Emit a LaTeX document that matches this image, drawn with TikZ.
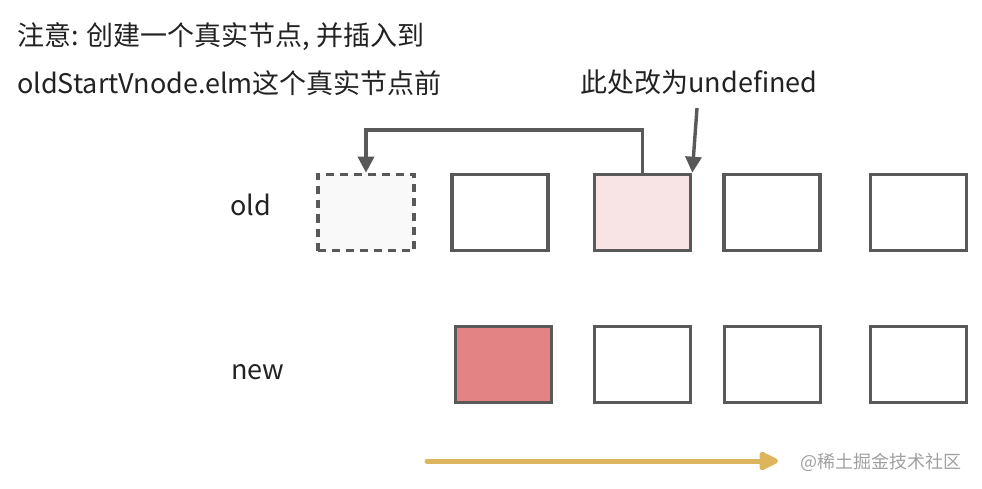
\documentclass[tikz,border=0pt]{standalone}
\usepackage{fontspec}
\setmainfont{Noto Sans CJK SC}
\usetikzlibrary{arrows.meta}
\definecolor{edge}{HTML}{595959}
\definecolor{pinkfill}{HTML}{F8E4E4}
\definecolor{redfill}{HTML}{E38383}
\definecolor{ghost}{HTML}{F9F9F9}
\definecolor{gold}{HTML}{DDB55C}
\definecolor{ink}{HTML}{222222}
\definecolor{wm}{HTML}{A0A0A0}
\begin{document}
\begin{tikzpicture}[x=1pt,y=-1pt,
  cell/.style={draw=edge,line width=3.6pt,minimum width=96pt,minimum height=76pt,inner sep=0pt,fill=white},
  ghostcell/.style={cell,fill=ghost,dash pattern=on 8pt off 6pt},
  lbl/.style={font=\fontsize{27}{30}\selectfont,text=ink,inner sep=0pt},
  conn/.style={draw=edge,line width=3.4pt,-{Triangle[length=16pt,width=16pt]}},
  flow/.style={draw=gold,line width=5pt,line cap=round,-{Triangle[length=22pt,width=20pt,round]}}
]
\useasboundingbox (0,0) rectangle (982,489);
\node[lbl,anchor=west] (note1) at (17,37) {注意: 创建一个真实节点, 并插入到};
\node[lbl,anchor=west] (note2) at (17,83) {oldStartVnode.elm这个真实节点前};
\node[lbl] (undef) at (699,82) {此处改为undefined};
\node[lbl,anchor=west] (oldl) at (230,205) {old};
\node[lbl,anchor=west] (newl) at (231,372) {new};

\node[ghostcell] (o1) at (366,212.5) {};
\node[cell] (o2) at (500,212.5) {};
\node[cell,fill=pinkfill] (o3) at (642.5,212.5) {};
\node[cell] (o4) at (772,212.5) {};
\node[cell] (o5) at (918.5,212.5) {};

\node[cell,fill=redfill] (n1) at (503.5,364.5) {};
\node[cell] (n2) at (642.5,364.5) {};
\node[cell] (n3) at (772.5,364.5) {};
\node[cell] (n4) at (918.5,364.5) {};

\coordinate (top) at (366,130);
\draw[conn] (o3.north) |- (top) -- (o1.north);
\coordinate (ustart) at (697,108);
\draw[conn] (ustart) -- (o3.north east);

\coordinate (fs) at (427,461);
\coordinate (fe) at (778,461);
\draw[flow] (fs) -- (fe);
\node[font=\fontsize{18}{20}\selectfont,text=wm,anchor=west,inner sep=0pt] (mark) at (800,462) {@稀土掘金技术社区};
\end{tikzpicture}
\end{document}
